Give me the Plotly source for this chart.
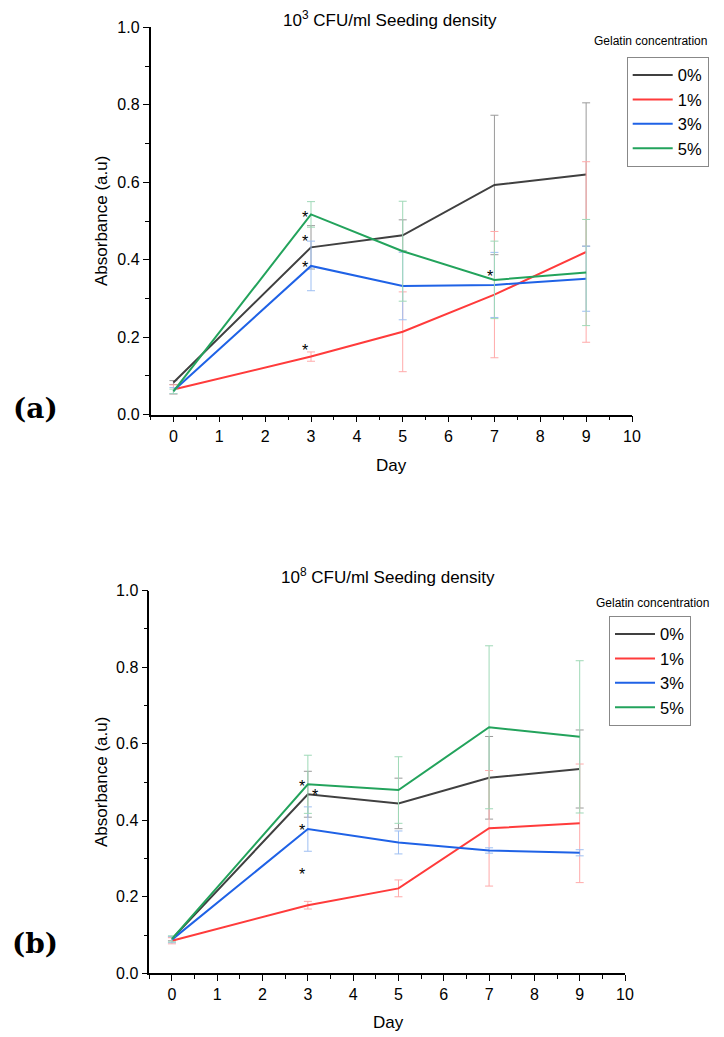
import plotly.graph_objects as go

days = [0, 3, 5, 7, 9]
series_names = ["0%", "1%", "3%", "5%"]
line_colors = ["#404040", "#ff3b3b", "#1f62e6", "#23a35c"]
err_colors = ["#9a9a9a", "#ffaaaa", "#9ebff2", "#9fd9b7"]

# Panel (a): 10^3 CFU/ml
a_vals = [
    [0.083, 0.432, 0.463, 0.593, 0.620],
    [0.065, 0.150, 0.214, 0.310, 0.420],
    [0.062, 0.384, 0.332, 0.335, 0.351],
    [0.060, 0.517, 0.422, 0.348, 0.367],
]
a_errs = [
    [0.005, 0.056, 0.040, 0.180, 0.185],
    [0.012, 0.012, 0.103, 0.163, 0.233],
    [0.008, 0.064, 0.087, 0.084, 0.084],
    [0.006, 0.033, 0.129, 0.100, 0.137],
]
# Panel (b): 10^8 CFU/ml
b_vals = [
    [0.090, 0.468, 0.444, 0.511, 0.534],
    [0.085, 0.178, 0.222, 0.379, 0.392],
    [0.088, 0.377, 0.342, 0.321, 0.315],
    [0.090, 0.494, 0.479, 0.643, 0.618],
]
b_errs = [
    [0.005, 0.060, 0.066, 0.108, 0.102],
    [0.008, 0.010, 0.022, 0.151, 0.155],
    [0.008, 0.058, 0.030, 0.007, 0.008],
    [0.008, 0.076, 0.087, 0.213, 0.199],
]

# significance asterisks (x in days, y in absorbance)
a_star_x = [2.86, 2.86, 2.86, 2.86, 6.9]
a_star_y = [0.520, 0.457, 0.391, 0.176, 0.367]
b_star_x = [2.87, 3.15, 2.87, 2.87]
b_star_y = [0.498, 0.475, 0.383, 0.270]

x_ticks = list(range(0, 11))
y_ticks = [0.0, 0.2, 0.4, 0.6, 0.8, 1.0]
y_tick_text = ["0.0", "0.2", "0.4", "0.6", "0.8", "1.0"]

FONT = "Liberation Sans, Arial, sans-serif"
OFF = 8  # default page body margin
W, H = 724 - OFF, 1037 - OFF


def px(x):
    return (x - OFF) / W


def py(y):
    return 1 - (y - OFF) / H


fig = go.Figure()

for panel, (vals, errs, xa, ya, leg) in enumerate([
    (a_vals, a_errs, "x", "y", "legend"),
    (b_vals, b_errs, "x2", "y2", "legend2"),
]):
    for i, name in enumerate(series_names):
        fig.add_trace(go.Scatter(
            x=days, y=vals[i], mode="lines", name=name,
            line=dict(color=line_colors[i], width=2),
            error_y=dict(type="data", array=errs[i], visible=True,
                         color=err_colors[i], thickness=1, width=4),
            xaxis=xa, yaxis=ya, legend=leg,
        ))

axis_common = dict(
    showline=True, linecolor="black", linewidth=1.5, mirror=False,
    showgrid=False, zeroline=False, ticks="outside", ticklen=6,
    tickwidth=1.2, tickcolor="black", automargin=False,
    tickfont=dict(family=FONT, size=16, color="black"),
)

xdom_a = [px(150.5), px(632)]
xdom_b = [px(149.3), px(625)]
ydom_a = [py(414.7), py(27.3)]
ydom_b = [py(973.3), py(590.7)]

xaxis_kw = dict(range=[-0.5, 10], tickmode="array", tickvals=x_ticks,
                minor=dict(dtick=0.5, tick0=0, ticks="outside", ticklen=3.5,
                           tickcolor="black", tickwidth=1.2), **axis_common)
yaxis_kw = dict(range=[0, 1], tickmode="array", tickvals=y_ticks, ticktext=y_tick_text,
                minor=dict(dtick=0.1, tick0=0, ticks="outside", ticklen=3.5,
                           tickcolor="black", tickwidth=1.2), **axis_common)

legend_common = dict(xanchor="left", yanchor="top",
                     bordercolor="#888888", borderwidth=1, bgcolor="white",
                     font=dict(family=FONT, size=16.5, color="black"),
                     tracegroupgap=0, itemwidth=40)

fig.update_layout(
    width=W, height=H,
    margin=dict(l=0, r=0, t=0, b=0, pad=0, autoexpand=False),
    paper_bgcolor="white", plot_bgcolor="white",
    showlegend=True,
    xaxis=dict(domain=xdom_a, anchor="y", **xaxis_kw),
    yaxis=dict(domain=ydom_a, anchor="x", **yaxis_kw),
    xaxis2=dict(domain=xdom_b, anchor="y2", **xaxis_kw),
    yaxis2=dict(domain=ydom_b, anchor="x2", **yaxis_kw),
    legend=dict(x=px(626.7), y=py(56.7), **legend_common),
    legend2=dict(x=px(609), y=py(615.7), **legend_common),
)

ann = []


def add_text(text, x, y, size, family=FONT, angle=0, xanchor="center"):
    ann.append(dict(text=text, x=px(x), y=py(y), xref="paper", yref="paper",
                    xanchor=xanchor, yanchor="middle", textangle=angle,
                    showarrow=False, font=dict(family=family, size=size, color="black")))


# titles
add_text("10<sup>3</sup> CFU/ml Seeding density", 390, 19, 17)
add_text("10<sup>8</sup> CFU/ml Seeding density", 388, 576, 17)
# legend titles
add_text("Gelatin concentration", 592, 41, 12, xanchor="left")
add_text("Gelatin concentration", 594, 603, 12, xanchor="left")
# axis titles
for yc in [221, 782]:
    add_text("Absorbance (a.u)", 101, yc, 17, angle=-90)
for xc, yc in [(391, 466), (388, 1022)]:
    add_text("Day", xc, yc, 17)
# panel labels
for lbl, yc in [("(a)", 408), ("(b)", 943)]:
    add_text("<b>" + lbl + "</b>", 35, yc, 28,
             family="DejaVu Serif, Liberation Serif, serif")
# asterisks
for sx, sy in zip(a_star_x, a_star_y):
    ann.append(dict(text="*", x=sx, y=sy, xref="x", yref="y", showarrow=False,
                    xanchor="center", yanchor="middle",
                    yshift=-4, font=dict(family=FONT, size=16, color="black")))
for sx, sy in zip(b_star_x, b_star_y):
    ann.append(dict(text="*", x=sx, y=sy, xref="x2", yref="y2", showarrow=False,
                    xanchor="center", yanchor="middle",
                    yshift=-4, font=dict(family=FONT, size=16, color="black")))

fig.update_layout(annotations=ann)
fig.write_html("out.html")
